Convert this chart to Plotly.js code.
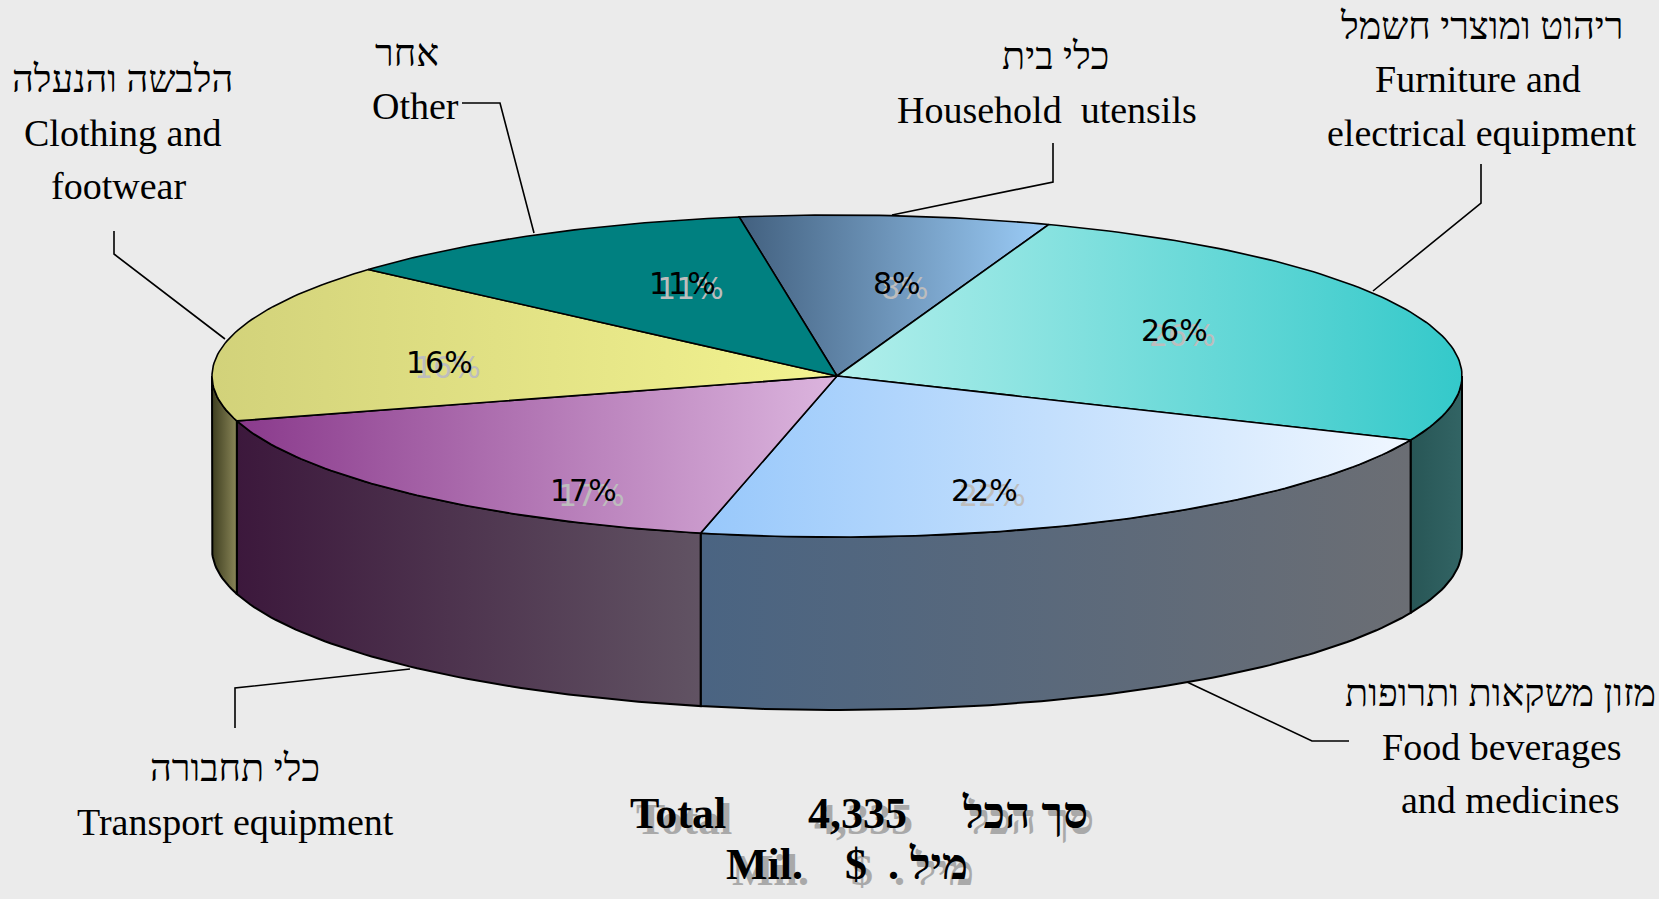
<!DOCTYPE html>
<html>
<head>
<meta charset="utf-8">
<script src="https://cdn.plot.ly/plotly-3.0.1.min.js"></script>
<style>
  html, body { margin: 0; padding: 0; background: #ebebeb; overflow: hidden; }
  #chart { width: 1659px; height: 899px; }
</style>
</head>
<body>
<div id="chart"></div>
<script>
// ---------------- DATA ----------------
const categoriesHe = ['כלי בית', 'ריהוט ומוצרי חשמל', 'מזון משקאות ותרופות', 'כלי תחבורה', 'הלבשה והנעלה', 'אחר'];
const categoriesEn = [
  ['Household  utensils'],
  ['Furniture and', 'electrical equipment'],
  ['Food beverages', 'and medicines'],
  ['Transport equipment'],
  ['Clothing and', 'footwear'],
  ['Other']
];
const shares = [8, 26, 22, 17, 16, 11];   // percent
const totalValue = 4335;                   // Mil. $
const totalTextEn = 'Total';
const totalTextHe = 'סך הכל';
const unitEn = 'Mil.';
const unitSym = '$';
const unitHe = '. מיל';

// ---------------- STYLE / LAYOUT ----------------
const W = 1659, H = 899;
const cx = 837, cy = 376, rx = 625, ry = 161, depth = 173, startDeg = 99;

const topScales = [
  [[0, '#42607f'], [1, '#9ccdf8']],
  [[0, '#b2efeb'], [1, '#34c9ca']],
  [[0, '#98c8fb'], [1, '#f0f7ff']],
  [[0, '#8a3a8c'], [1, '#dcb5de']],
  [[0, '#d2d27a'], [1, '#f3f390']],
  [[0, '#008080'], [1, '#008080']]
];
const wallScales = [
  [[0, '#3a5a78'], [1, '#3a5a78']],
  [[0, '#285656'], [1, '#326464']],
  [[0, '#4a6482'], [1, '#6b6e74']],
  [[0, '#3c183c'], [1, '#615363']],
  [[0, '#3d3d1f'], [1, '#8a8658']],
  [[0, '#006060'], [1, '#006060']]
];

// percentage label anchor positions (page pixels)
const pctPos = [[897, 283], [1174, 330], [984, 490], [583, 490], [439, 362], [682, 283]];
// category label blocks
const catPos = [
  {xh: 1055, yh: 56, xe: [1047], ye: [110]},
  {xh: 1481, yh: 26, xe: [1478, 1482], ye: [79, 133]},
  {xh: 1500, yh: 693, xe: [1502, 1510], ye: [747, 800]},
  {xh: 235, yh: 768, xe: [235], ye: [822]},
  {xh: 122, yh: 79, xe: [122, 118], ye: [133, 186]},
  {xh: 407, yh: 53, xe: [415], ye: [106]}
];
// leader lines (page pixels)
const leaders = [
  [[1053, 143], [1053, 182], [892, 215]],
  [[1481, 164], [1481, 203], [1373, 291]],
  [[1349, 741], [1312, 741], [1187, 682]],
  [[235, 728], [235, 688], [410, 669]],
  [[114, 231], [114, 254], [225, 339]],
  [[462, 103], [500, 103], [534, 233]]
];

const serif = "'Liberation Serif', 'Times New Roman', 'DejaVu Serif', serif";
const sans = "'DejaVu Sans', 'Noto Sans', sans-serif";

// ---------------- GEOMETRY ----------------
function pt(deg, dy) {
  const t = deg * Math.PI / 180;
  return [cx + rx * Math.cos(t), cy - ry * Math.sin(t) + (dy || 0)];
}
function arc(a, b, dy) {
  const n = Math.max(2, Math.ceil(Math.abs(a - b)));
  const out = [];
  for (let k = 0; k <= n; k++) out.push(pt(a + (b - a) * k / n, dy));
  return out;
}

const sum = shares.reduce((s, v) => s + v, 0);
const spans = [];
let acc = startDeg;
shares.forEach(v => {
  const a0 = acc, a1 = acc - v / sum * 360;
  spans.push([a0, a1]);
  acc = a1;
});

const traces = [];
// side walls (front half only)
spans.forEach(([a0, a1], i) => {
  [[-180, 0], [-540, -360]].forEach(([vlo, vhi]) => {
    const lo = Math.max(a1, vlo), hi = Math.min(a0, vhi);
    if (lo < hi) {
      const pts = arc(hi, lo, 0).concat(arc(lo, hi, depth));
      pts.push(pts[0]);
      traces.push({
        type: 'scatter', mode: 'lines', hoverinfo: 'skip', showlegend: false,
        x: pts.map(p => p[0]), y: pts.map(p => p[1]),
        fill: 'toself',
        fillgradient: {type: 'horizontal', colorscale: wallScales[i]},
        line: {color: '#000', width: 2}
      });
    }
  });
});
// top faces
spans.forEach(([a0, a1], i) => {
  const pts = [[cx, cy]].concat(arc(a0, a1, 0));
  pts.push([cx, cy]);
  traces.push({
    type: 'scatter', mode: 'lines', hoverinfo: 'skip', showlegend: false,
    x: pts.map(p => p[0]), y: pts.map(p => p[1]),
    fill: 'toself',
    fillgradient: {type: 'horizontal', colorscale: topScales[i]},
    line: {color: '#000', width: 1.6}
  });
});

// ---------------- ANNOTATIONS ----------------
const ann = [];
function addText(text, x, y, font) {
  ann.push({
    text: text, x: x, y: y, xref: 'x', yref: 'y', showarrow: false,
    xanchor: 'center', yanchor: 'middle', font: font
  });
}
// percentages with drop shadow
shares.forEach((v, i) => {
  const [x, y] = pctPos[i];
  addText(v + '%', x, y, {family: sans, size: 30, color: '#000', shadow: '8px 5px 0px #bdbdbd'});
});
// category labels
categoriesHe.forEach((he, i) => {
  const p = catPos[i];
  addText(he, p.xh, p.yh, {family: serif, size: 38, color: '#000'});
  categoriesEn[i].forEach((line, j) => {
    addText(line, p.xe[j], p.ye[j], {family: serif, size: 38, color: '#000'});
  });
});
// total block with drop shadow
const totalStr = totalValue.toLocaleString('en-US');
const totalItems = [
  [totalTextEn, 678, 813], [totalStr, 857, 813], [totalTextHe, 1025, 813],
  [unitEn, 764, 864], [unitSym, 856, 864], [unitHe, 928, 864]
];
totalItems.forEach(([t, x, y]) => {
  addText('<b>' + t + '</b>', x, y, {family: serif, size: 44, color: '#000', shadow: '6px 6px 0px #a9a9a9'});
});

// leader line shapes
const shapes = leaders.map(pts => ({
  type: 'path', xref: 'x', yref: 'y',
  path: 'M ' + pts.map(p => p[0] + ',' + p[1]).join(' L '),
  line: {color: '#000', width: 1.6}
}));

const layout = {
  width: W, height: H,
  margin: {l: 0, r: 0, t: 0, b: 0},
  paper_bgcolor: '#ebebeb', plot_bgcolor: '#ebebeb',
  xaxis: {range: [0, W], visible: false, fixedrange: true},
  yaxis: {range: [H, 0], visible: false, fixedrange: true},
  showlegend: false,
  annotations: ann,
  shapes: shapes
};

Plotly.newPlot('chart', traces, layout, {staticPlot: true, displayModeBar: false});
</script>
</body>
</html>
